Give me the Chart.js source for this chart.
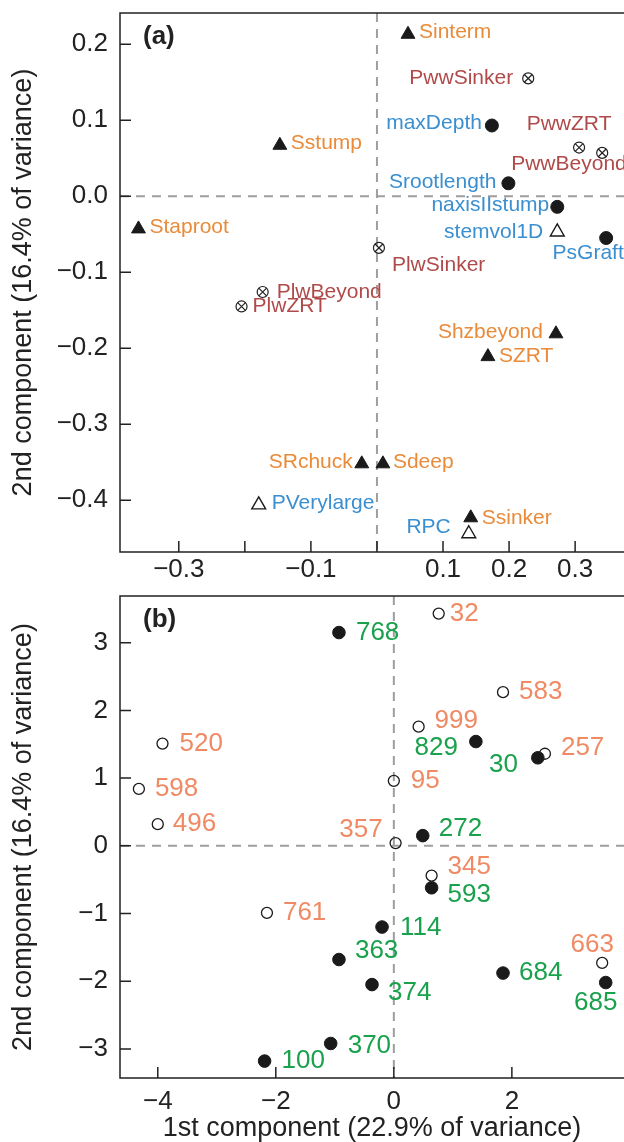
<!DOCTYPE html>
<html>
<head>
<meta charset="utf-8">
<script src="https://cdn.jsdelivr.net/npm/chart.js@4.4.1/dist/chart.umd.min.js"></script>
<style>
  html, body { margin: 0; padding: 0; background: #fff; overflow: hidden; }
  .panel { position: relative; width: 624px; }
  canvas { display: block; }
</style>
</head>
<body>
<div class="panel" style="height:580px"><canvas id="pcaA" width="624" height="580"></canvas></div>
<div class="panel" style="height:562px"><canvas id="pcaB" width="624" height="562"></canvas></div>
<script>
const FONT = '"Liberation Sans", Arial, Helvetica, sans-serif';
const INK = '#222222';

// ---- panel (a): variable loadings ----
const sVarNames = ['Sinterm', 'Sstump', 'Staproot', 'Shzbeyond', 'SZRT', 'SRchuck', 'Sdeep', 'Ssinker'];
const sVarX = [0.047, -0.147, -0.361, 0.271, 0.168, -0.023, 0.009, 0.142];
const sVarY = [0.213, 0.067, -0.043, -0.181, -0.211, -0.352, -0.352, -0.423];

const openTriNames = ['stemvol1D', 'PVerylarge', 'RPC'];
const openTriX = [0.273, -0.179, 0.139];
const openTriY = [-0.047, -0.406, -0.444];

const dotNames = ['maxDepth', 'Srootlength', 'naxisIIstump', 'PsGraft'];
const dotX = [0.174, 0.199, 0.273, 0.347];
const dotY = [0.093, 0.017, -0.014, -0.055];

const pNames = ['PwwSinker', 'PwwZRT', 'PwwBeyond', 'PlwSinker', 'PlwBeyond', 'PlwZRT'];
const pX = [0.229, 0.306, 0.341, 0.003, -0.173, -0.205];
const pY = [0.155, 0.064, 0.057, -0.068, -0.126, -0.145];

const xTicksA = [-0.3, -0.2, -0.1, 0, 0.1, 0.2, 0.3];
const xTickLabelsA = ['\u22120.3', '', '\u22120.1', '', '0.1', '0.2', '0.3'];
const yTicksA = [-0.4, -0.3, -0.2, -0.1, 0, 0.1, 0.2];
const yTickLabelsA = ['\u22120.4', '\u22120.3', '\u22120.2', '\u22120.1', '0.0', '0.1', '0.2'];

// ---- panel (b): individual scores ----
const openIds = ['32', '999', '583', '257', '95', '357', '345', '520', '598', '496', '761', '663'];
const openX = [0.76, 0.42, 1.85, 2.56, 0.0, 0.03, 0.64, -3.92, -4.32, -4.0, -2.15, 3.53];
const openY = [3.43, 1.76, 2.27, 1.36, 0.96, 0.04, -0.44, 1.51, 0.84, 0.32, -0.99, -1.73];

const filledIds = ['768', '829', '30', '272', '593', '114', '363', '374', '684', '685', '370', '100'];
const filledX = [-0.93, 1.39, 2.44, 0.49, 0.64, -0.20, -0.93, -0.37, 1.85, 3.59, -1.07, -2.19];
const filledY = [3.15, 1.54, 1.30, 0.15, -0.62, -1.20, -1.68, -2.05, -1.88, -2.02, -2.92, -3.18];

const xTicksB = [-4, -2, 0, 2];
const xTickLabelsB = ['\u22124', '\u22122', '0', '2'];
const yTicksB = [-3, -2, -1, 0, 1, 2, 3];
const yTickLabelsB = ['\u22123', '\u22122', '\u22121', '0', '1', '2', '3'];

// label placement next to each mark: [dx, dy, textAlign]
const sVarLab = [[11, -2, 'left'], [11, -2, 'left'], [11, -2, 'left'], [-13, -2, 'right'],
                 [11, 0, 'left'], [-9, -2, 'right'], [10, -2, 'left'], [11, 0, 'left']];
const openTriLab = [[-14, 0, 'right'], [13, -2, 'left'], [-18, -7, 'right']];
const dotLab = [[-10, -2, 'right'], [-12, -1, 'right'], [-8, -2, 'right'], [-18, 15, 'center']];
const pLab = [[-15, 0, 'right'], [-10, -23, 'center'], [-91, 11, 'left'],
              [13, 17, 'left'], [14, 0, 'left'], [11, 0, 'left']];
const openLab = [[11, 0, 'left'], [16, -6, 'left'], [16, 0, 'left'], [16, -6, 'left'],
                 [17, 0, 'left'], [-13, -13, 'right'], [16, -9, 'left'], [17, 0, 'left'],
                 [16, 0, 'left'], [15, 0, 'left'], [16, 0, 'left'], [-10, -18, 'center']];
const filledLab = [[17, 0, 'left'], [-18, 6, 'right'], [-20, 7, 'right'], [16, -7, 'left'],
                   [16, 7, 'left'], [18, 1, 'left'], [16, -9, 'left'], [16, 8, 'left'],
                   [16, 0, 'left'], [-10, 20, 'center'], [17, 2, 'left'], [17, 0, 'left']];

const pts = (xs, ys) => xs.map((x, i) => ({ x, y: ys[i] }));

const decor = {
    id: 'pcaDecor',
    beforeDatasetsDraw(chart) {
        const { ctx, chartArea: a, scales: { x, y } } = chart;
        const x0 = x.getPixelForValue(0);
        const y0 = y.getPixelForValue(0);
        ctx.save();
        ctx.strokeStyle = '#9e9e9e';
        ctx.lineWidth = 2;
        ctx.setLineDash([9, 7]);
        ctx.beginPath();
        ctx.moveTo(x0, a.top); ctx.lineTo(x0, a.bottom);
        ctx.moveTo(a.left, y0); ctx.lineTo(a.right, y0);
        ctx.stroke();
        ctx.restore();
    },
    afterDraw(chart, args, opts) {
        const { ctx, chartArea: a, scales: { x, y } } = chart;
        ctx.save();
        ctx.strokeStyle = INK;
        ctx.lineWidth = 1.5;
        ctx.beginPath();
        ctx.moveTo(a.right, a.top); ctx.lineTo(a.left, a.top);
        ctx.lineTo(a.left, a.bottom); ctx.lineTo(a.right, a.bottom);
        // R style inward ticks
        x.ticks.forEach(t => {
            const px = x.getPixelForValue(t.value);
            ctx.moveTo(px, a.bottom); ctx.lineTo(px, a.bottom - 11);
        });
        y.ticks.forEach(t => {
            const py = y.getPixelForValue(t.value);
            ctx.moveTo(a.left, py); ctx.lineTo(a.left + 11, py);
        });
        ctx.stroke();
        ctx.fillStyle = INK;
        ctx.font = 'bold 26px ' + FONT;
        ctx.textBaseline = 'middle';
        ctx.textAlign = 'left';
        ctx.fillText(opts.panel, a.left + 23, a.top + 24);
        ctx.restore();
    }
};

const pointLabels = {
    id: 'pointLabels',
    afterDatasetsDraw(chart) {
        const ctx = chart.ctx;
        chart.data.datasets.forEach((ds, di) => {
            if (!ds.names) return;
            const meta = chart.getDatasetMeta(di);
            ctx.save();
            ctx.fillStyle = ds.nameColor;
            ctx.font = ds.nameSize + 'px ' + FONT;
            ctx.textBaseline = 'middle';
            meta.data.forEach((pt, i) => {
                const [dx, dy, align] = ds.nameOffsets[i];
                ctx.textAlign = align;
                ctx.fillText(ds.names[i], pt.x + dx, pt.y + dy);
            });
            ctx.restore();
        });
    }
};

function axis(min, max, ticks, labels, opts) {
    return {
        type: 'linear',
        min: min,
        max: max,
        grid: { display: false, drawTicks: false },
        border: { display: false },
        afterBuildTicks: s => { s.ticks = ticks.map(v => ({ value: v })); },
        afterFit: s => {
            if (opts.width) s.width = opts.width;
            if (opts.height) s.height = opts.height;
            s.paddingTop = s.paddingBottom = s.paddingLeft = s.paddingRight = 0;
        },
        ticks: {
            color: INK,
            font: { family: FONT, size: 26 },
            padding: opts.pad,
            autoSkip: false,
            maxRotation: 0,
            minRotation: 0,
            callback: (v, i) => labels[i]
        },
        title: {
            display: !!opts.title,
            text: opts.title || '',
            color: INK,
            font: { family: FONT, size: 27, lineHeight: 1 },
            padding: opts.titlePad || 0
        }
    };
}

function pcaChart(id, datasets, cfg) {
    return new Chart(document.getElementById(id), {
        type: 'scatter',
        data: { datasets },
        plugins: [decor, pointLabels],
        options: {
            responsive: false,
            animation: false,
            devicePixelRatio: 1,
            layout: { autoPadding: false, padding: { top: cfg.top, right: 0, bottom: 0, left: 0 } },
            plugins: {
                legend: { display: false },
                tooltip: { enabled: false },
                pcaDecor: { panel: cfg.panel }
            },
            scales: { x: cfg.x, y: cfg.y }
        }
    });
}

const yTitle = '2nd component (16.4% of variance)';

pcaChart('pcaA', [
    {
        data: pts(sVarX, sVarY), pointStyle: 'triangle', pointRadius: 8,
        backgroundColor: '#1a1a1a', borderColor: '#1a1a1a', borderWidth: 1,
        names: sVarNames, nameOffsets: sVarLab, nameColor: '#e98b3a', nameSize: 21
    },
    {
        data: pts(openTriX, openTriY), pointStyle: 'triangle', pointRadius: 8,
        backgroundColor: '#ffffff', borderColor: '#1a1a1a', borderWidth: 1.4,
        names: openTriNames, nameOffsets: openTriLab, nameColor: '#3a8fd0', nameSize: 21
    },
    {
        data: pts(dotX, dotY), pointStyle: 'circle', pointRadius: 6.5,
        backgroundColor: '#1a1a1a', borderColor: '#1a1a1a', borderWidth: 1,
        names: dotNames, nameOffsets: dotLab, nameColor: '#3a8fd0', nameSize: 21
    },
    {
        data: pts(pX, pY), pointStyle: 'crossRot', pointRadius: 5.5,
        borderColor: '#222', borderWidth: 1.2
    },
    {
        data: pts(pX, pY), pointStyle: 'circle', pointRadius: 5.5,
        backgroundColor: 'rgba(255,255,255,0)', borderColor: '#222', borderWidth: 1.2,
        names: pNames, nameOffsets: pLab, nameColor: '#b04a4a', nameSize: 21
    }
], {
    panel: '(a)',
    top: 13,
    x: axis(-0.389, 0.374, xTicksA, xTickLabelsA, { pad: 2, height: 28 }),
    y: axis(-0.468, 0.241, yTicksA, yTickLabelsA, { pad: 12, width: 120, title: yTitle, titlePad: { top: 10, bottom: 0 } })
});

pcaChart('pcaB', [
    {
        data: pts(filledX, filledY), pointStyle: 'circle', pointRadius: 6.3,
        backgroundColor: '#1a1a1a', borderColor: '#1a1a1a', borderWidth: 1,
        names: filledIds, nameOffsets: filledLab, nameColor: '#1aa14c', nameSize: 26
    },
    {
        data: pts(openX, openY), pointStyle: 'circle', pointRadius: 5.5,
        backgroundColor: 'rgba(255,255,255,0)', borderColor: '#1a1a1a', borderWidth: 1.3,
        names: openIds, nameOffsets: openLab, nameColor: '#ef8a64', nameSize: 26
    }
], {
    panel: '(b)',
    top: 16,
    x: axis(-4.64, 3.90, xTicksB, xTickLabelsB, { pad: 8, height: 64, title: '1st component (22.9% of variance)', titlePad: { top: 0, bottom: 0 } }),
    y: axis(-3.43, 3.69, yTicksB, yTickLabelsB, { pad: 12, width: 120, title: yTitle, titlePad: { top: 10, bottom: 0 } })
});
</script>
</body>
</html>
